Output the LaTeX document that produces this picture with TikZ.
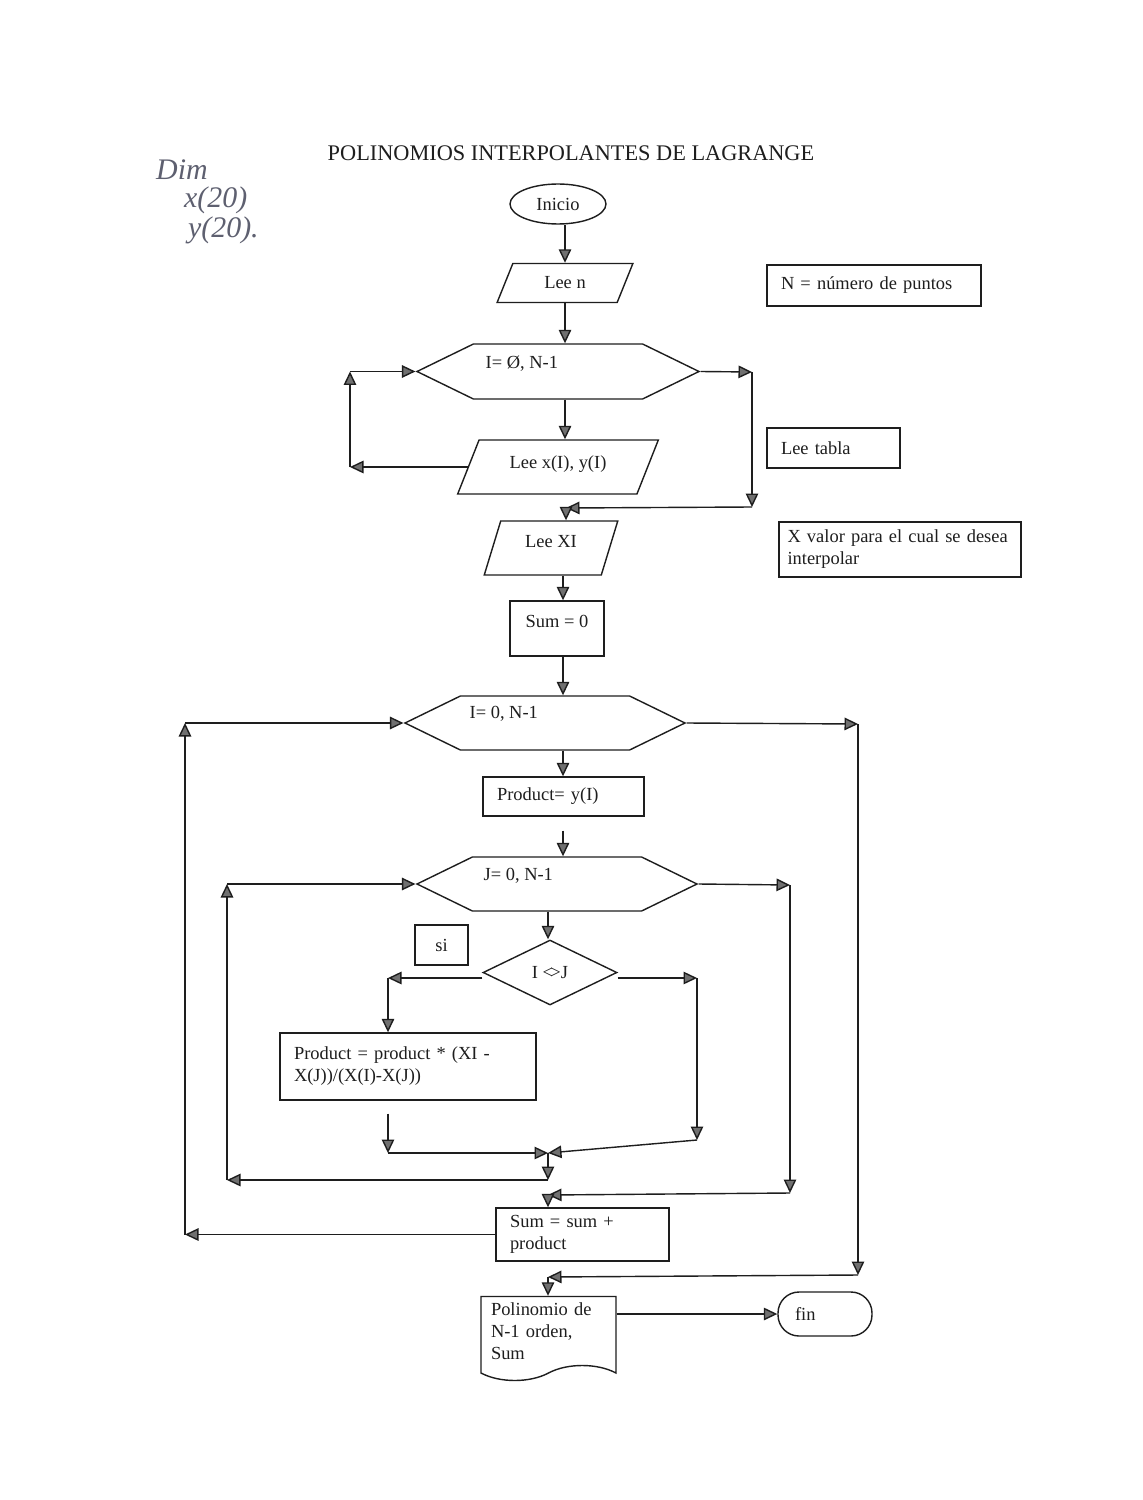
\documentclass[tikz,border=0pt]{standalone}
\usepackage{fontspec}
\setmainfont{Liberation Serif}
\usepackage{tikz}
\usetikzlibrary{arrows.meta,shapes.geometric,shapes.symbols}
\definecolor{fcInk}{HTML}{1E1E1E}
\definecolor{fcHead}{HTML}{707070}
\definecolor{fcPencil}{HTML}{5E6070}
\tikzset{
  fc diagram/.style={x=0.02cm, y=-0.02cm, font=\fontsize{10.5}{12.5}\selectfont,
    text=fcInk, line join=miter},
  fc box/.style={draw=fcInk, line width=0.8pt, rectangle, align=left,
    inner xsep=0.28cm, inner ysep=0pt},
  fc io/.style 2 args={draw=fcInk, line width=0.8pt, trapezium,
    trapezium left angle=#1, trapezium right angle=#2,
    trapezium stretches=true, inner sep=0pt},
  fc loop/.style={draw=fcInk, line width=0.8pt, signal, signal to=east and west,
    signal pointer angle=52, inner sep=0pt},
  fc arrow/.style={-{Triangle[length=2.7mm,width=2.5mm,fill=fcHead]},
    draw=fcInk, line width=0.8pt},
  fc title/.style={font=\fontsize{12.7}{15}\selectfont},
  fc pencil/.style={font=\fontsize{17}{20}\selectfont\itshape, text=fcPencil}
}
\begin{document}
\begin{tikzpicture}[fc diagram]
\fill[white] (0,0) rectangle (1142,1500);
\useasboundingbox (0,0) rectangle (1142,1500);

% pencil notes and title
\node[fc pencil, anchor=west] (dim) at (150,170) {Dim};
\node[fc pencil, anchor=west] (dimx) at (178,200) {x(20)};
\node[fc pencil, anchor=west] (dimy) at (182,230) {y(20).};
\node[fc title] (title) at (571,153) {POLINOMIOS INTERPOLANTES DE LAGRANGE};

% main column
\node[draw=fcInk, line width=0.8pt, ellipse, minimum width=1.92cm, minimum height=0.8cm,
  inner sep=0pt] (inicio) at (558,204) {Inicio};
\node[fc io={63}{117}, minimum width=2.72cm, minimum height=0.78cm] (leen) at (565,283)
  {Lee n\hspace{0.35cm}};
\node[fc loop, minimum width=5.64cm, minimum height=1.1cm] (hexA) at (558,371.5) {};
\node[fc io={59}{121}, minimum width=4.04cm, minimum height=1.08cm, text depth=0.18cm] (lxy)
  at (558,467) {Lee x(I), y(I)};
\node[fc io={72}{108}, minimum width=2.68cm, minimum height=1.08cm, text depth=0.28cm] (lxi)
  at (551,548) {Lee XI};
\node[fc box, align=center, minimum width=1.88cm, minimum height=1.1cm, text depth=0.28cm] (sum0)
  at (557,628.5) {Sum = 0};
\node[fc loop, minimum width=5.6cm, minimum height=1.08cm] (hexB) at (545,723) {};
\node[fc box, text width=2.66cm, minimum height=0.78cm] (prod0) at (563.5,796.5) {Product= y(I)};
\node[fc loop, minimum width=5.6cm, minimum height=1.08cm] (hexC) at (557,884) {};
\node[fc box, align=center, minimum width=1.06cm, minimum height=0.8cm] (si) at (441.5,945) {si};
\node[draw=fcInk, line width=0.8pt, diamond, aspect=2, minimum width=2.68cm, minimum height=1.3cm,
  inner sep=0pt] (diam) at (550,972.5) {I <\kern-1.5pt>J};
\node[fc box, text width=4.56cm, minimum height=1.34cm] (prodF) at (408,1066.5)
  {Product = product * (XI -\\X(J))/(X(I)-X(J))};
\node[fc box, text width=2.9cm, minimum height=1.06cm] (sumP) at (582.5,1234.5) {Sum = sum +\\product};
\node[draw=fcInk, line width=0.8pt, tape, tape bend top=none, tape bend bottom=in and out,
  tape bend height=0.3cm, align=left, text width=2.3cm, inner xsep=0.2cm, inner ysep=0pt,
  minimum width=2.7cm, minimum height=1.68cm] (poli) at (548.5,1331) {Polinomio de\\N-1 orden,\\Sum};
\node[fc box, rounded corners=0.42cm, text width=1.2cm, inner xsep=0.34cm, minimum height=0.88cm]
  (fin) at (825,1314) {fin};

% loop headers
\node[anchor=west] (hexAtxt) at ([shift={(64,-8)}]hexA.west) {I= Ø, N-1};
\node[anchor=west] (hexBtxt) at ([shift={(60,-9)}]hexB.west) {I= 0, N-1};
\node[anchor=west] (hexCtxt) at ([shift={(62,-8)}]hexC.west) {J= 0, N-1};

% side notes
\node[fc box, text width=3.72cm, minimum height=0.82cm] (noteN) at (874,285.5) {N = número de puntos};
\node[fc box, text width=2.1cm, minimum height=0.8cm] (noteT) at (833.5,448) {Lee tabla};
\node[fc box, text width=4.5cm, inner xsep=0.17cm, minimum height=1.1cm] (noteX) at (900,549.5)
  {X valor para el cual se desea\\interpolar};

% corner points
\coordinate (colA) at (565,0);
\coordinate (colB) at (563,0);
\coordinate (colC) at (548,0);
\coordinate (aL1) at (350,467);
\coordinate (aL2) at (350,371.5);
\coordinate (aR1) at (752,372);
\coordinate (aR2) at (752,507);
\coordinate (aJ) at (566,508);
\coordinate (bL1) at (185,1234.5);
\coordinate (bL2) at (185,723);
\coordinate (bR1) at (858,724);
\coordinate (bR2) at (858,1275);
\coordinate (bJ) at (548,1277);
\coordinate (cL1) at (227,1180);
\coordinate (cL2) at (227,884);
\coordinate (cR1) at (790,885);
\coordinate (cR2) at (790,1193);
\coordinate (cJ) at (548,1195);
\coordinate (dL) at (388,978);
\coordinate (dR) at (697,978);
\coordinate (dR2) at (697,1140);
\coordinate (mB) at (388,1153);
\coordinate (mJ) at (548,1153);

% spine
\draw[fc arrow] (colA |- inicio.south) -- (colA |- leen.north);
\draw[fc arrow] (colA |- leen.south) -- (colA |- hexA.north);
\draw[fc arrow] (colA |- hexA.south) -- (colA |- lxy.north);
\draw[fc arrow] (colB |- lxi.south) -- (colB |- sum0.north);
\draw[fc arrow] (colB |- sum0.south) -- (colB |- hexB.north);
\draw[fc arrow] (colB |- hexB.south) -- (colB |- prod0.north);
\draw[fc arrow, shorten <=0.28cm] (colB |- prod0.south) -- (colB |- hexC.north);
\draw[fc arrow] (colC |- hexC.south) -- (colC |- diam.north);

% first loop: reading the table
\draw[fc arrow] (lxy.west) -- (aL1);
\draw[fc arrow] (aL1) -- (aL2);
\draw[fc arrow] (aL2) -- (hexA.west);
\draw[fc arrow] (hexA.east) -- (aR1);
\draw[fc arrow] (aR1) -- (aR2);
\draw[fc arrow] (aR2) -- (aJ);
\draw[fc arrow] (aJ) -- (aJ |- lxi.north);

% decision
\draw[fc arrow] (dL -| diam.west) -- (dL);
\draw[fc arrow] (dL) -- (dL |- prodF.north);
\draw[fc arrow, shorten <=0.26cm] (dL |- prodF.south) -- (mB);
\draw[fc arrow] (mB) -- (mJ);
\draw[fc arrow] (dR -| diam.east) -- (dR);
\draw[fc arrow] (dR) -- (dR2);
\draw[fc arrow] (dR2) -- (mJ);
\draw[fc arrow] (mJ) -- (cL1 -| mJ);

% inner loop over J
\draw[fc arrow] (cL1 -| mJ) -- (cL1);
\draw[fc arrow] (cL1) -- (cL2);
\draw[fc arrow] (cL2) -- (hexC.west);
\draw[fc arrow] (hexC.east) -- (cR1);
\draw[fc arrow] (cR1) -- (cR2);
\draw[fc arrow] (cR2) -- (cJ);
\draw[fc arrow] (cJ) -- (cJ |- sumP.north);

% outer loop over I
\draw[fc arrow] (sumP.west) -- (bL1);
\draw[fc arrow] (bL1) -- (bL2);
\draw[fc arrow] (bL2) -- (hexB.west);
\draw[fc arrow] (hexB.east) -- (bR1);
\draw[fc arrow] (bR1) -- (bR2);
\draw[fc arrow] (bR2) -- (bJ);
\draw[fc arrow] (bJ) -- (bJ |- poli.north);
\draw[fc arrow] (fin.west -| poli.east) -- (fin.west);
\end{tikzpicture}
\end{document}
